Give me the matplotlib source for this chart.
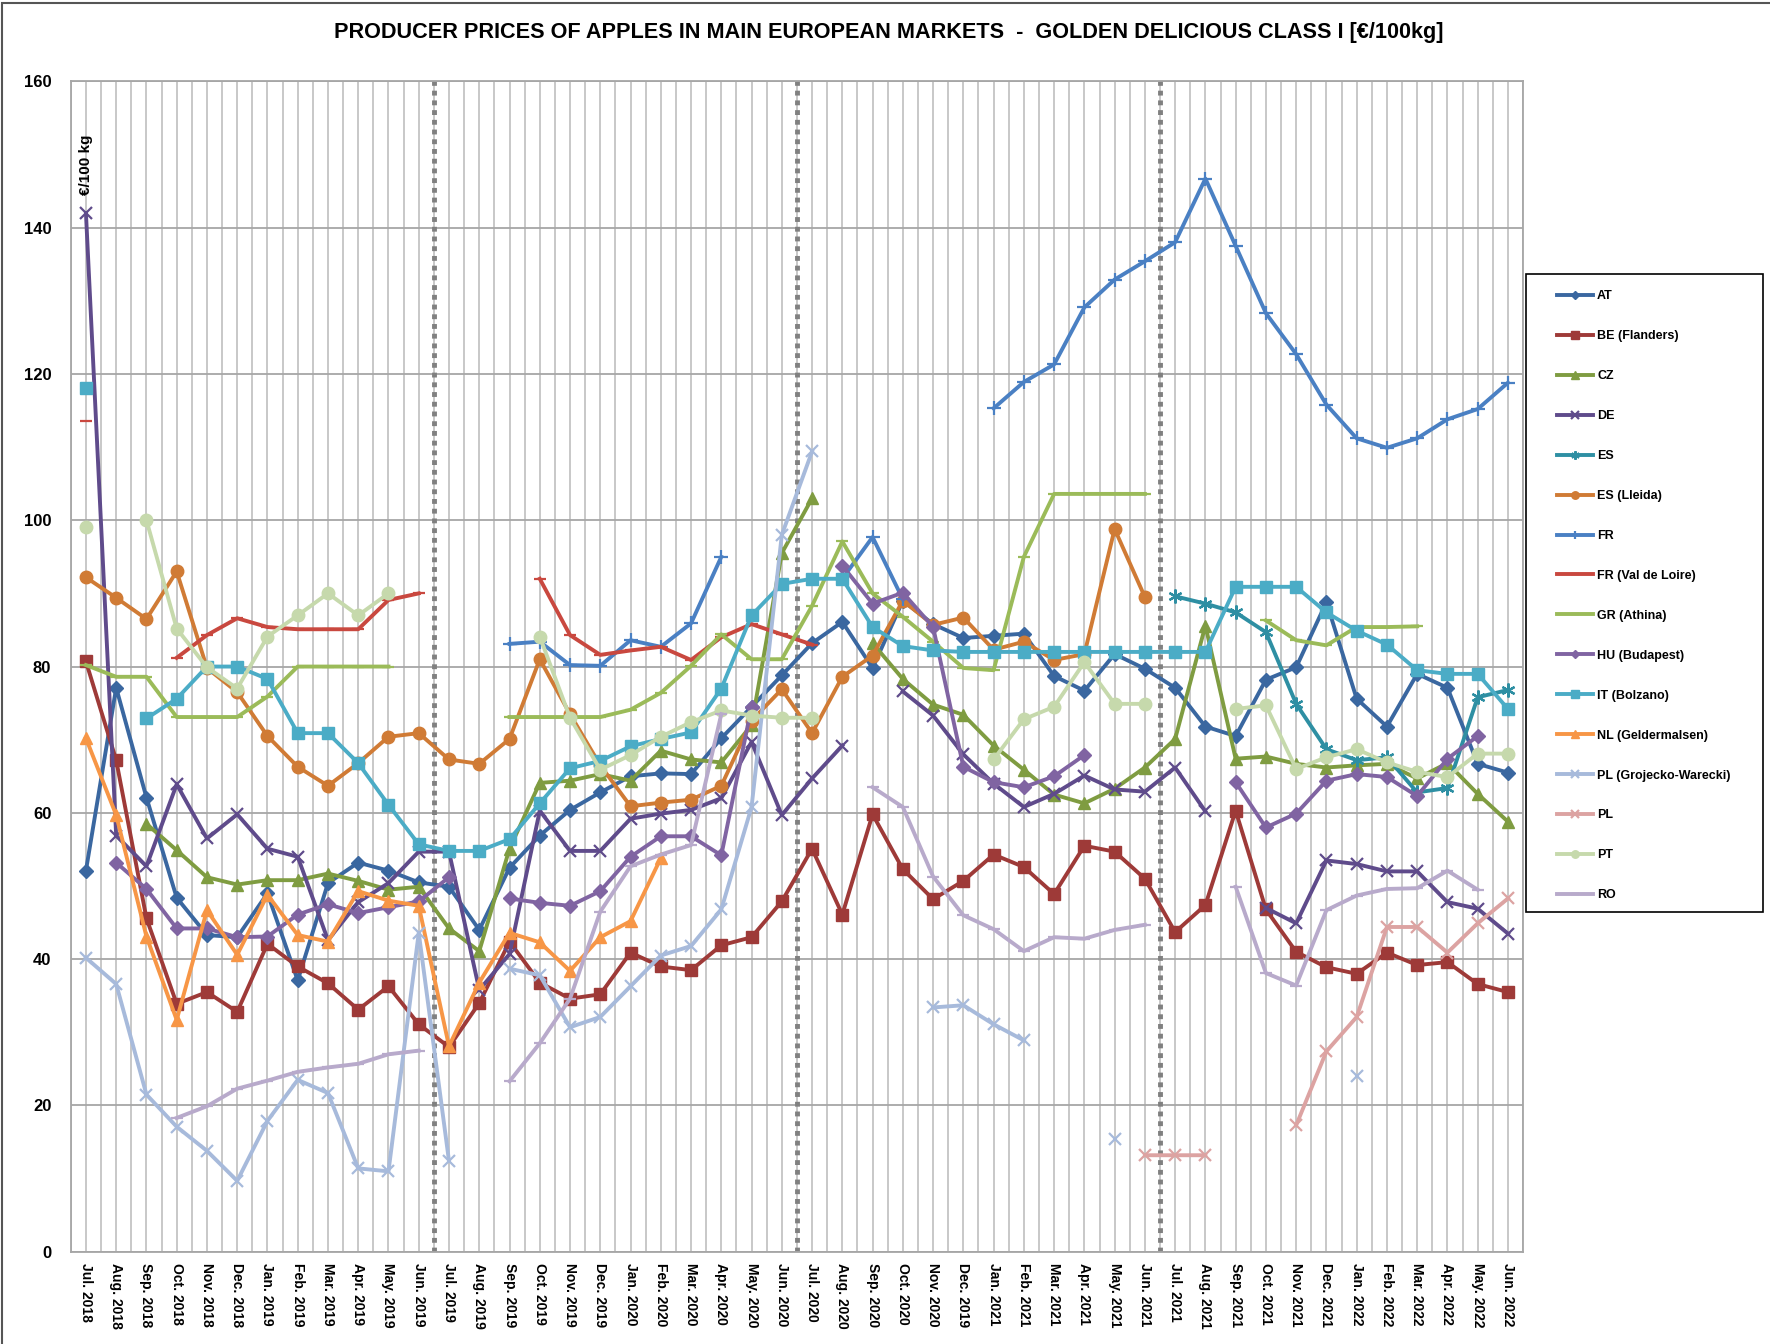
import numpy as np
import matplotlib
matplotlib.use('Agg')
from matplotlib import pyplot as plt
from matplotlib.ticker import MultipleLocator
from matplotlib.patches import Rectangle

n = None

months = ['Jul. 2018', 'Aug. 2018', 'Sep. 2018', 'Oct. 2018', 'Nov. 2018', 'Dec. 2018',
          'Jan. 2019', 'Feb. 2019', 'Mar. 2019', 'Apr. 2019', 'May. 2019', 'Jun. 2019',
          'Jul. 2019', 'Aug. 2019', 'Sep. 2019', 'Oct. 2019', 'Nov. 2019', 'Dec. 2019',
          'Jan. 2020', 'Feb. 2020', 'Mar. 2020', 'Apr. 2020', 'May. 2020', 'Jun. 2020',
          'Jul. 2020', 'Aug. 2020', 'Sep. 2020', 'Oct. 2020', 'Nov. 2020', 'Dec. 2019',
          'Jan. 2021', 'Feb. 2021', 'Mar. 2021', 'Apr. 2021', 'May. 2021', 'Jun. 2021',
          'Jul. 2021', 'Aug. 2021', 'Sep. 2021', 'Oct. 2021', 'Nov. 2021', 'Dec. 2021',
          'Jan. 2022', 'Feb. 2022', 'Mar. 2022', 'Apr. 2022', 'May. 2022', 'Jun. 2022']

at = [52.1, 77.1, 62.1, 48.4, 43.3, 43.0, 49.0, 37.1, 50.4, 53.2, 52.1, 50.5,
      49.9, 44.0, 52.5, 56.9, 60.4, 62.8, 65.0, 65.4, 65.3, 70.2, 74.5, 78.8,
      83.2, 86.1, 79.8, 89.0, 85.8, 83.9, 84.2, 84.5, 78.7, 76.7, 81.7, 79.7,
      77.1, 71.8, 70.5, 78.2, 79.9, 88.8, 75.6, 71.8, 79.0, 77.1, 66.7, 65.5]
be = [80.7, 67.2, 45.6, 33.9, 35.5, 32.8, 42.1, 39.0, 36.7, 33.1, 36.3, 31.1,
      28.0, 34.0, 42.4, 36.8, 34.6, 35.2, 40.9, 39.0, 38.5, 41.9, 43.0, 47.9,
      55.1, 46.1, 59.8, 52.3, 48.2, 50.7, 54.3, 52.6, 48.9, 55.5, 54.7, 51.0,
      43.7, 47.4, 60.3, 46.8, 41.0, 38.9, 38.0, 40.9, 39.2, 39.6, 36.6, 35.5]
cz = [n, n, 58.5, 54.9, 51.2, 50.2, 50.8, 50.8, 51.7, 50.7, 49.5, 49.9,
      44.2, 41.1, 55.1, 64.1, 64.4, 65.3, 64.4, 68.5, 67.3, 66.9, 72.0, 95.5,
      103.0, n, 83.2, 78.3, 74.8, 73.4, 69.2, 65.9, 62.5, 61.3, 63.3, 66.2,
      70.1, 85.6, 67.4, 67.7, 66.7, 66.2, 66.5, 66.7, 64.7, 66.8, 62.6, 58.8]
de = [142.0, 56.9, 52.7, 63.9, 56.5, 59.8, 55.1, 54.0, 42.6, 47.8, 50.4, 54.7,
      54.7, 35.8, 40.7, 60.3, 54.8, 54.8, 59.2, 59.9, 60.4, 62.0, 69.7, 59.7,
      64.7, 69.2, n, 76.6, 73.3, 68.0, 64.0, 60.8, 62.6, 65.1, 63.2, 62.9,
      66.2, 60.2, n, 47.0, 44.9, 53.5, 53.0, 52.0, 52.0, 47.8, 46.9, 43.5]
es = [n] * 36 + [89.6, 88.6, 87.4, 84.7, 74.9, 68.7, 67.2, 67.6, 62.8, 63.4, 75.8, 76.8]
es_lleida = [92.2, 89.4, 86.5, 93.0, 79.8, 76.5, 70.5, 66.3, 63.7, 66.8, 70.4, 70.9,
             67.3, 66.7, 70.1, 81.0, 73.5, 66.5, 60.9, 61.4, 61.8, 63.7, 72.6, 76.9,
             70.9, 78.6, 81.5, 89.0, 85.7, 86.7, 82.3, 83.4, 80.9, 81.7, 98.8, 89.5] + [n] * 12
fr = [n] * 14 + [83.1, 83.4, 80.2, 80.1, 83.6, 82.7, 85.9, 95.0, n, n, n,
                 92.0, 97.7, 89.2, n, n, 115.3, 118.9, 121.3, 129.1, 132.9, 135.4,
                 138.0, 146.7, 137.5, 128.3, 122.7, 115.8, 111.2, 109.9, 111.2, 113.8,
                 115.2, 118.8]
fr_loire = [113.6, n, n, 81.2, 84.3, 86.6, 85.4, 85.1, 85.1, 85.1, 89.1, 90.0,
            n, n, n, 92.0, 84.3, 81.6, 82.2, 82.7, 80.9, 84.0, 85.8, 84.4,
            83.0] + [n] * 23
gr = [80.2, 78.6, 78.6, 73.1, 73.1, 73.1, 75.9, 80.0, 80.0, 80.0, 80.0, n,
      n, n, 73.1, 73.1, 73.1, 73.1, 74.1, 76.4, 80.1, 84.4, 81.0, 81.0,
      88.3, 97.1, 90.0, 86.8, 83.4, 79.8, 79.5, 95.0, 103.6, 103.6, 103.6, 103.6,
      n, n, n, 86.3, 83.6, 82.9, 85.4, 85.4, 85.5, n, n, n]
hu = [n, 53.2, 49.6, 44.2, 44.2, 43.0, 43.1, 46.1, 47.5, 46.3, 47.1, 47.9,
      51.2, n, 48.3, 47.7, 47.3, 49.3, 54.0, 56.8, 56.8, 54.2, 74.5, n,
      n, 93.8, 88.6, 90.1, 85.4, 66.3, 64.2, 63.5, 65.0, 67.9, n, n,
      n, n, 64.2, 58.0, 59.9, 64.4, 65.3, 64.9, 62.3, 67.4, 70.5, n]
it = [118.1, n, 72.9, 75.6, 80.0, 80.0, 78.3, 70.9, 70.9, 66.8, 61.1, 55.7,
      54.8, 54.8, 56.4, 61.3, 66.1, 67.1, 69.1, 70.1, 71.0, 77.0, 87.0, 91.3,
      92.0, 92.0, 85.4, 82.8, 82.2, 82.0, 82.0, 82.0, 82.0, 82.0, 82.0, 82.0,
      82.0, 82.0, 90.9, 90.9, 90.9, 87.4, 84.9, 83.0, 79.5, 79.0, 79.0, 74.2]
nl = [70.2, 59.7, 43.1, 31.7, 46.7, 40.6, 48.8, 43.3, 42.4, 49.3, 48.0, 47.3,
      28.1, 36.8, 43.6, 42.3, 38.4, 43.0, 45.2, 53.8] + [n] * 28
pl_groj = [40.2, 36.6, 21.5, 17.1, 13.8, 9.7, 17.9, 23.5, 21.7, 11.4, 11.0, 43.6,
           12.4, n, 38.7, 37.8, 30.7, 32.1, 36.3, 40.5, 41.8, 46.8, 60.8, 98.0,
           109.4, n, n, n, 33.4, 33.7, 31.1, 28.9, n, n, 15.4, n,
           n, n, n, n, n, n, 24.0, n, n, n, n, n]
pl = [n] * 35 + [13.2, 13.2, 13.2, n, n, 17.3, 27.4, 32.1, 44.4, 44.4, 40.9, 44.9, 48.3]
pt = [99.1, n, 100.0, 85.2, 79.9, 77.0, 84.1, 87.0, 90.0, 87.0, 90.0, n,
      n, n, n, 84.1, 73.0, 65.9, 67.9, 70.4, 72.4, 74.0, 73.3, 73.0,
      73.0, n, n, n, n, n, 67.3, 72.8, 74.5, 80.6, 74.9, 74.9,
      n, n, 74.2, 74.7, 66.0, 67.6, 68.7, 66.9, 65.6, 64.9, 68.1, 68.1]
ro = [n, n, n, 18.3, 19.9, 22.3, 23.4, 24.6, 25.2, 25.7, 27.0, 27.5,
      n, n, 23.3, 28.5, 34.6, 46.5, 52.7, 54.3, 55.6, 73.5, n, n,
      n, n, 63.5, 60.8, 51.3, 46.0, 44.1, 41.1, 43.0, 42.8, 44.0, 44.7,
      n, n, 49.9, 38.1, 36.4, 46.7, 48.7, 49.6, 49.7, 52.1, 49.5, n]

# label, values, colour, marker, marker size
series = [
    ('AT', at, '#3A67A0', 'D', 7),
    ('BE (Flanders)', be, '#9E3A38', 's', 9),
    ('CZ', cz, '#7F9C41', '^', 9),
    ('DE', de, '#5F4B8B', 'x', 9),
    ('ES', es, '#2E8FA3', (6, 2, 0), 10),
    ('ES (Lleida)', es_lleida, '#D07B35', 'o', 9),
    ('FR', fr, '#4A80C3', '+', 10),
    ('FR (Val de Loire)', fr_loire, '#C9483F', '_', 9),
    ('GR (Athina)', gr, '#9BBB59', '_', 9),
    ('HU (Budapest)', hu, '#8064A2', 'D', 7),
    ('IT (Bolzano)', it, '#4BACC6', 's', 9),
    ('NL (Geldermalsen)', nl, '#F79646', '^', 9),
    ('PL (Grojecko-Warecki)', pl_groj, '#A7BADB', 'x', 9),
    ('PL', pl, '#DCA3A2', 'x', 9),
    ('PT', pt, '#C6D9AC', 'o', 9),
    ('RO', ro, '#B8AACB', '_', 9),
]

plt.rcParams['font.family'] = ['Liberation Sans', 'DejaVu Sans']

fig = plt.figure(figsize=(17.7, 13.44), dpi=100)
ax = fig.add_axes([0.040, 0.0686, 0.8205, 0.8709])

x = np.arange(len(months))
for label, vals, color, marker, ms in series:
    y = np.array(vals, dtype=float)
    thin = marker in ('x', '+', '_') or isinstance(marker, tuple)
    ax.plot(x, y, color=color, lw=2.8, marker=marker, ms=ms,
            mew=1.6 if thin else 1, mfc=color, mec=color, label=label,
            solid_joinstyle='round', clip_on=False)

ax.set_xlim(-0.5, len(months) - 0.5)
ax.set_ylim(0, 160)
ax.set_yticks(np.arange(0, 161, 20))
ax.set_xticks(x)
ax.set_xticklabels(months, rotation=270, fontsize=10, fontweight='bold')
ax.xaxis.set_minor_locator(MultipleLocator(0.5))
ax.tick_params(axis='x', which='both', length=0, pad=8)
ax.tick_params(axis='y', length=0, pad=14, labelsize=12)
for lab in ax.get_yticklabels():
    lab.set_fontweight('bold')
ax.grid(axis='x', which='both', color='#C4C4C4', lw=1.3)
ax.grid(axis='y', which='major', color='#A6A6A6', lw=1.3)
ax.set_axisbelow(True)
for s in ax.spines.values():
    s.set_color('#A6A6A6')
    s.set_linewidth(1.3)

# season separators (Jun / Jul)
for b in [11.5, 23.5, 35.5]:
    ax.axvline(b, color='#808080', lw=3.5, ls=(0, (1, 1)), zorder=1.5)

ax.text(0.0, 144.5, '€/100 kg', rotation=90, fontsize=11, fontweight='bold',
        ha='center', va='bottom')

fig.text(0.502, 0.976, 'PRODUCER PRICES OF APPLES IN MAIN EUROPEAN MARKETS  -  GOLDEN DELICIOUS CLASS I [€/100kg]',
         ha='center', va='center', fontsize=15.6, fontweight='bold')

leg = fig.legend(loc='upper left', bbox_to_anchor=(0.8797, 0.784), frameon=False,
                 prop={'weight': 'bold', 'size': 9}, handlelength=2.9,
                 handletextpad=0.3, labelspacing=2.235, borderpad=0, borderaxespad=0,
                 markerscale=0.6)
fig.add_artist(Rectangle((1526 / 1770, 1 - 912 / 1344), 237 / 1770, 638 / 1344,
                         transform=fig.transFigure, fill=False, ec='black', lw=1.2))

# outer frame of the picture
fig.add_artist(Rectangle((0.001, -0.01), 1.2, 1.008, transform=fig.transFigure,
                         fill=False, ec='#555555', lw=1.5))

fig.savefig('out.png', dpi=100)
